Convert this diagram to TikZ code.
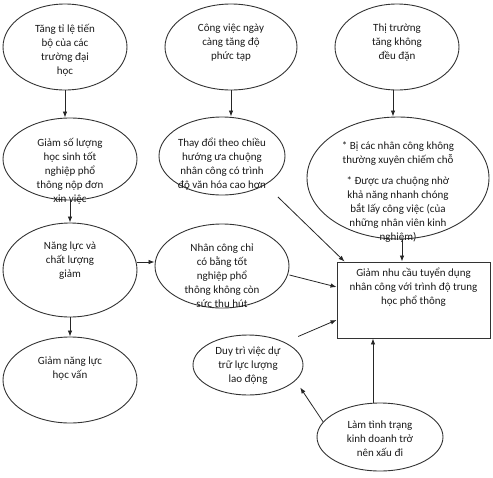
\documentclass[tikz,border=0pt]{standalone}
\usepackage{fontspec}
\setmainfont{Carlito}
\usepackage{tikz}
\usetikzlibrary{arrows.meta, positioning, shapes.geometric, calc}

\begin{document}
\begin{tikzpicture}[
    x=1pt, y=-1pt,
    bubble/.style={draw=black!80, ellipse, line width=0.9pt, inner sep=0pt},
    box/.style={draw=black!80, rectangle, line width=0.9pt, inner sep=0pt},
    txt/.style={align=center, inner sep=0pt, text=black!90, font=\fontsize{11}{14}\selectfont},
    flow/.style={-{Latex[length=6pt, width=4.5pt]}, line width=0.8pt, black!85}
]
\useasboundingbox (0,0) rectangle (493,477);

% top row
\node[bubble, minimum width=124pt, minimum height=86pt] (rise) at (65,47) {};
\node[bubble, minimum width=132pt, minimum height=86pt] (complex) at (231,47) {};
\node[bubble, minimum width=124pt, minimum height=86pt] (market) at (397,47) {};
\node[txt, yshift=-3pt] (rise-t) at (rise) {Tăng tỉ lệ tiến\\bộ của các\\trường đại\\học};
\node[txt, yshift=4pt] (complex-t) at (complex) {Công việc ngày\\càng tăng độ\\phức tạp};
\node[txt, yshift=4pt] (market-t) at (market) {Thị trường\\tăng không\\đều đặn};

% second row
\node[bubble, minimum width=134pt, minimum height=82pt] (fewgrads) at (70,159) {};
\node[bubble, minimum width=126pt, minimum height=78pt] (prefer) at (222,156) {};
\node[bubble, minimum width=182pt, minimum height=122pt] (casual) at (398,178) {};
\node[txt, yshift=-12pt] (fewgrads-t) at (fewgrads) {Giảm số lượng\\học sinh tốt\\nghiệp phổ\\thông nộp đơn\\xin việc};
\node[txt, yshift=-8pt] (prefer-t) at (prefer) {Thay đổi theo chiều\\hướng ưa chuộng\\nhân công có trình\\độ văn hóa cao hơn};
\node[txt, yshift=-14pt] (casual-t) at (casual) {* Bị các nhân công không\\thường xuyên chiếm chỗ\\[7pt]* Được ưa chuộng nhờ\\khả năng nhanh chóng\\bắt lấy công việc (của\\những nhân viên kinh\\nghiệm)};

% third row
\node[bubble, minimum width=134pt, minimum height=94pt] (quality) at (70,270) {};
\node[bubble, minimum width=134pt, minimum height=84pt] (unattract) at (222,266) {};
\node[box, minimum width=153pt, minimum height=76pt] (demand) at (413.5,300) {};
\node[txt, yshift=9pt] (quality-t) at (quality) {Năng lực và\\chất lượng\\giảm};
\node[txt, yshift=-10pt] (unattract-t) at (unattract) {Nhân công chỉ\\có bằng tốt\\nghiệp phổ\\thông không còn\\sức thu hút};
\node[txt, yshift=13pt] (demand-t) at (demand) {Giảm nhu cầu tuyển dụng\\nhân công với trình độ trung\\học phổ thông};

% bottom
\node[bubble, minimum width=134pt, minimum height=86pt] (skills) at (70,380) {};
\node[bubble, minimum width=110pt, minimum height=60pt] (reserve) at (248,365) {};
\node[bubble, minimum width=126pt, minimum height=68pt] (worse) at (380,437) {};
\node[txt, yshift=11pt] (skills-t) at (skills) {Giảm năng lực\\học vấn};
\node[txt, yshift=-1pt] (reserve-t) at (reserve) {Duy trì việc dự\\trữ lực lượng\\lao động};
\node[txt, yshift=-2pt] (worse-t) at (worse) {Làm tình trạng\\kinh doanh trở\\nên xấu đi};

\draw[flow] (rise.south) -- (rise.south |- fewgrads.north);
\draw[flow] (complex.south) -- (complex.south |- prefer.north);
\draw[flow] ([xshift=-4pt]market.south) -- ([xshift=-4pt]market.south |- casual.north);
\draw[flow] (fewgrads.south) -- (quality.north);
\draw[flow] ([yshift=8pt]quality.east) -- ([yshift=8pt]quality.east -| unattract.west);
\draw[flow] (quality.south) -- (skills.north);
\draw[flow] ([shift={(11pt,-13pt)}]prefer.south east) -- ([xshift=8pt]demand.north west);
\draw[flow] ([yshift=-9pt]unattract.east) -- ([yshift=13pt]demand.west);
\draw[flow] ([shift={(11pt,7pt)}]reserve.north east) -- ([yshift=-20pt]demand.west);
\draw[flow] ([xshift=4pt]casual.south) -- ([xshift=4pt]casual.south |- demand.north);
\draw[flow] ([xshift=-7pt]worse.north) -- ([xshift=-7pt]worse.north |- demand.south);
\draw[flow] (worse.165) -- ([shift={(13pt,-1pt)}]reserve.south east);
\end{tikzpicture}
\end{document}
